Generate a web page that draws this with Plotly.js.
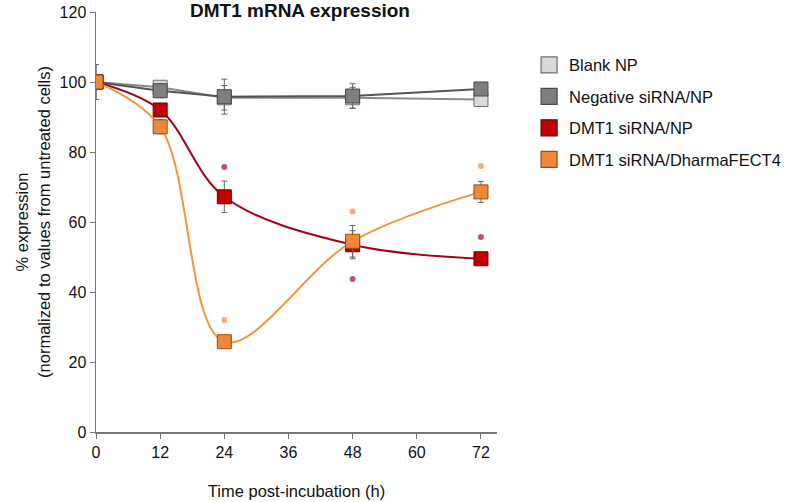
<!DOCTYPE html>
<html>
<head>
<meta charset="utf-8">
<script src="https://cdn.plot.ly/plotly-3.0.1.min.js"></script>
<style>html,body{margin:0;padding:0;background:#fff;}#chart{width:800px;height:502px;}</style>
</head>
<body>
<div id="chart"></div>
<script>
const timePoints = [0, 12, 24, 48, 72];
const blankNP = [100, 98.5, 95.5, 95.5, 95];
const blankNPErr = [5, 1.5, 3.5, 3, 1.5];
const negativeNP = [100, 97.5, 95.8, 96, 98];
const negativeNPErr = [5, 2, 5, 3.5, 1.5];
const dmt1NP = [100, 92, 67.2, 53.5, 49.5];
const dmt1NPErr = [0, 1.5, 4.5, 4, 1.5];
const dmt1DF = [100, 87.2, 25.8, 54.5, 68.6];
const dmt1DFErr = [0, 2, 1, 4.5, 3];
const sigTimesNP = [24, 48, 72];
const sigValuesNP = [75.7, 43.7, 55.7];
const sigTimesDF = [24, 48, 72];
const sigValuesDF = [32, 63, 76];
const seriesNames = ["Blank NP", "Negative siRNA/NP", "DMT1 siRNA/NP", "DMT1 siRNA/DharmaFECT4"];
const xTicks = [0, 12, 24, 36, 48, 60, 72];
const yTicks = [0, 20, 40, 60, 80, 100, 120];

const fills = ["#d9d9d9", "#7f7f7f", "#c00000", "#f0883a"];
const edges = ["#6e6e6e", "#4a4a4a", "#6b0000", "#9a4a10"];
const lineCols = ["#8a8a8a", "#555555", "#a3001a", "#f0963c"];

function errObj(arr) {
  return {type: "data", array: arr, visible: true, color: "#666", thickness: 1, width: 3};
}
function series(y, err, i, shape) {
  return {
    x: timePoints, y: y, mode: "lines+markers", showlegend: false,
    line: {color: lineCols[i], width: 2, shape: shape, smoothing: 1},
    marker: {symbol: "square", size: 14, color: fills[i], line: {color: edges[i], width: 1}},
    error_y: errObj(err), hoverinfo: "skip"
  };
}
const traces = [
  series(blankNP, blankNPErr, 0, "linear"),
  series(negativeNP, negativeNPErr, 1, "linear"),
  series(dmt1NP, dmt1NPErr, 2, "spline"),
  series(dmt1DF, dmt1DFErr, 3, "spline"),
  {x: sigTimesNP, y: sigValuesNP, mode: "markers", showlegend: false,
   marker: {symbol: "circle", size: 6, color: "#c8506a"}},
  {x: sigTimesDF, y: sigValuesDF, mode: "markers", showlegend: false,
   marker: {symbol: "circle", size: 6, color: "#f2b07a"}}
];
seriesNames.forEach((n, i) => {
  traces.push({x: [null], y: [null], mode: "markers", name: n, legendgroup: "g" + i,
    marker: {symbol: "square", size: 18, color: fills[i], line: {color: edges[i], width: 1.2}}});
});

const layout = {
  width: 800, height: 502,
  margin: {l: 96, r: 303, t: 12, b: 70},
  paper_bgcolor: "#fff", plot_bgcolor: "#fff",
  font: {family: "Liberation Sans, Arial, sans-serif", size: 16, color: "#111"},
  title: {text: "<b>DMT1 mRNA expression</b>", x: 0.375, xanchor: "center", y: 0.979, yanchor: "middle",
          font: {size: 19, color: "#111"}},
  xaxis: {range: [0, 75], tickvals: xTicks, ticktext: xTicks.map(String), ticks: "outside", ticklen: 5,
          tickcolor: "#777", showline: true, linecolor: "#777", linewidth: 1.5, showgrid: false,
          zeroline: false, tickfont: {size: 16},
          title: {text: "Time post-incubation (h)", standoff: 25, font: {size: 16.5}}},
  yaxis: {range: [0, 120], tickvals: yTicks, ticktext: yTicks.map(String), ticks: "outside", ticklen: 5,
          tickcolor: "#777", showline: true, linecolor: "#777", linewidth: 1.5, showgrid: false,
          zeroline: false, tickfont: {size: 16},
          title: {text: "% expression<br>(normalized to values from untreated cells)", standoff: 5, font: {size: 16.5}}},
  legend: {x: 1.08, xanchor: "left", y: 0.915, yanchor: "top", traceorder: "grouped", tracegroupgap: 7,
           font: {size: 16.5, color: "#111"}, bgcolor: "rgba(0,0,0,0)"},
  showlegend: true
};
Plotly.newPlot("chart", traces, layout, {displayModeBar: false, staticPlot: true});
</script>
</body>
</html>
